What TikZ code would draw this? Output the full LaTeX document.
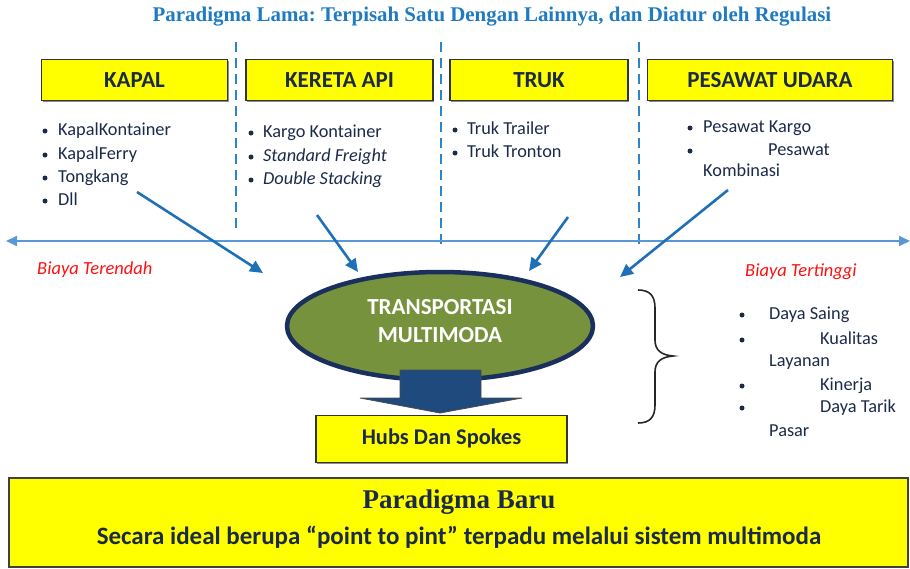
\documentclass[tikz,border=0pt]{standalone}
\usepackage{fontspec}
\setmainfont{Carlito}
\newfontfamily\serifbf{Liberation Serif}[BoldFont={Liberation Serif Bold}]
\usetikzlibrary{arrows.meta,shapes.geometric,shadows}
\frenchspacing
\definecolor{titleblue}{HTML}{1F7BC1}
\definecolor{dashblue}{HTML}{2E86C8}
\definecolor{arrowblue}{HTML}{1F70B8}
\definecolor{lineblue}{HTML}{5A98D4}
\definecolor{navytext}{HTML}{1C2A4A}
\definecolor{boxyellow}{HTML}{FFFF00}
\definecolor{olivefill}{HTML}{76923C}
\definecolor{ellborder}{HTML}{1B2F5E}
\definecolor{blockblue}{HTML}{1F4A7D}
\definecolor{redtext}{HTML}{FF1010}
\tikzset{
  modebox/.style={draw=black!80, line width=1.1pt, fill=boxyellow, inner sep=0pt,
    drop shadow={shadow xshift=1.2pt, shadow yshift=-1.2pt, opacity=0.45, fill=black},
    text=navytext, font=\bfseries\fontsize{23}{24}\selectfont, text height=15pt, text depth=0pt},
  itemtext/.style={anchor=west, inner sep=0pt, text height=12pt, text depth=4pt,
    text=navytext, font=\fontsize{18.3}{20}\selectfont},
  bul/.style={circle, fill=navytext, inner sep=0pt, minimum size=5pt},
  sepline/.style={draw=dashblue, line width=2.6pt, dash pattern=on 10pt off 6pt},
  diagarrow/.style={draw=arrowblue, line width=2.6pt, -{Triangle[length=13pt,width=12pt]}},
  redlabel/.style={text=redtext, font=\itshape\fontsize{18.5}{19}\selectfont, inner sep=0pt, anchor=west}
}
\begin{document}
\begin{tikzpicture}[x=1pt,y=-1pt]
\useasboundingbox (0,0) rectangle (910,568);
% title
\node[font=\serifbf\bfseries\fontsize{20.9}{22}\selectfont, text=titleblue, inner sep=0pt] (title) at (492,17)
  {Paradigma Lama: Terpisah Satu Dengan Lainnya, dan Diatur oleh Regulasi};
% separators
\coordinate (d1t) at (236,42); \coordinate (d1b) at (236,234);
\coordinate (d2t) at (441,42); \coordinate (d2b) at (441,248);
\coordinate (d3t) at (639,42); \coordinate (d3b) at (639,248);
\draw[sepline] (d1t) -- (d1b);
\draw[sepline] (d2t) -- (d2b);
\draw[sepline] (d3t) -- (d3b);
% mode boxes
\node[modebox, minimum width=186pt, minimum height=41pt] (kapal) at (134.5,80) {KAPAL};
\node[modebox, minimum width=187pt, minimum height=41pt] (kereta) at (339.5,80) {KERETA API};
\node[modebox, minimum width=178pt, minimum height=41pt] (truk) at (539,80) {TRUK};
\node[modebox, minimum width=245pt, minimum height=41pt] (pesawat) at (770,80) {PESAWAT UDARA};
% KAPAL list
\node[bul] (bk1) at (45,131) {}; \node[itemtext] (k1) at (58,131) {KapalKontainer};
\node[bul] (bk2) at (45,155) {}; \node[itemtext] (k2) at (58,155) {KapalFerry};
\node[bul] (bk3) at (45,178) {}; \node[itemtext] (k3) at (58,178) {Tongkang};
\node[bul] (bk4) at (45,201) {}; \node[itemtext] (k4) at (58,201) {Dll};
% KERETA list
\node[bul] (br1) at (251,133) {}; \node[itemtext] (r1) at (263,133) {Kargo Kontainer};
\node[bul] (br2) at (251,157) {}; \node[itemtext, font=\itshape\fontsize{18.3}{20}\selectfont] (r2) at (263,157) {Standard Freight};
\node[bul] (br3) at (251,180) {}; \node[itemtext, font=\itshape\fontsize{18.3}{20}\selectfont] (r3) at (263,180) {Double Stacking};
% TRUK list
\node[bul] (bt1) at (455,130) {}; \node[itemtext] (t1) at (467,130) {Truk Trailer};
\node[bul] (bt2) at (455,153) {}; \node[itemtext] (t2) at (467,153) {Truk Tronton};
% PESAWAT list
\node[bul] (bp1) at (690,128) {}; \node[itemtext] (p1) at (703,128) {Pesawat Kargo};
\node[bul] (bp2) at (690,151) {}; \node[itemtext] (p2) at (768,151) {Pesawat};
\node[itemtext] (p3) at (703,172) {Kombinasi};
% cost axis
\coordinate (axl) at (6,241); \coordinate (axr) at (910,241);
\draw[draw=lineblue, line width=1.8pt, {Triangle[length=11pt,width=10pt]}-{Triangle[length=11pt,width=10pt]}] (axl) -- (axr);
\node[redlabel] (low) at (37,270) {Biaya Terendah};
\node[redlabel] (high) at (745,272) {Biaya Tertinggi};
% ellipse
\node[ellipse, draw=ellborder, line width=4.5pt, fill=olivefill, minimum width=306pt, minimum height=108pt, inner sep=0pt] (multi) at (440,326) {};
\node[text=white, font=\bfseries\fontsize{23}{24}\selectfont, inner sep=0pt] (mt1) at (440,307) {TRANSPORTASI};
\node[text=white, font=\bfseries\fontsize{23}{24}\selectfont, inner sep=0pt] (mt2) at (440,335) {MULTIMODA};
% arrows into ellipse
\coordinate (a1s) at (137,192); \coordinate (a1e) at (263,273);
\coordinate (a2s) at (317,215); \coordinate (a2e) at (358,272);
\coordinate (a3s) at (568,217); \coordinate (a3e) at (529,271);
\coordinate (a4s) at (728,190); \coordinate (a4e) at (620,277);
\draw[diagarrow] (a1s) -- (a1e);
\draw[diagarrow] (a2s) -- (a2e);
\draw[diagarrow] (a3s) -- (a3e);
\draw[diagarrow] (a4s) -- (a4e);
% block arrow
\draw[fill=blockblue, draw=black!70, line width=0.8pt]
  (400,370) -- (481,370) -- (481,398) -- (522,398) -- (440,413) -- (360,398) -- (400,398) -- cycle;
% hubs box
\node[modebox, minimum width=251pt, minimum height=47pt, font=\bfseries\fontsize{22.4}{24}\selectfont, text height=15pt, text depth=4pt] (hubs) at (441.5,439) {Hubs Dan Spokes};
% brace
\draw[line width=1.6pt, black!85] (638,290) .. controls (650,290) and (655,296) .. (655,308)
  -- (655,340) .. controls (655,350) and (661,355) .. (673,356)
  .. controls (661,357) and (655,362) .. (655,372)
  -- (655,405) .. controls (655,417) and (650,423) .. (638,423);
% right list
\node[bul] (bq1) at (742,315) {}; \node[itemtext] (q1) at (769,315) {Daya Saing};
\node[bul] (bq2) at (742,340) {}; \node[itemtext] (q2) at (820,340) {Kualitas};
\node[itemtext] (q3) at (769,362) {Layanan};
\node[bul] (bq4) at (742,386) {}; \node[itemtext] (q4) at (820,386) {Kinerja};
\node[bul] (bq5) at (742,408) {}; \node[itemtext] (q5) at (820,408) {Daya Tarik};
\node[itemtext] (q6) at (769,432) {Pasar};
% bottom box
\node[draw=black!75, line width=1.2pt, fill=boxyellow, minimum width=899pt, minimum height=89pt, inner sep=0pt,
  drop shadow={shadow xshift=1.2pt, shadow yshift=-1.2pt, opacity=0.45, fill=black}] (baru) at (458.5,522.5) {};
\node[font=\serifbf\bfseries\fontsize{27}{28}\selectfont, text=navytext, inner sep=0pt] (bt) at (459,502) {Paradigma Baru};
\node[font=\bfseries\fontsize{25}{26}\selectfont, text=navytext, inner sep=0pt] (bs) at (459,537)
  {Secara ideal berupa “point to pint” terpadu melalui sistem multimoda};
\end{tikzpicture}
\end{document}
